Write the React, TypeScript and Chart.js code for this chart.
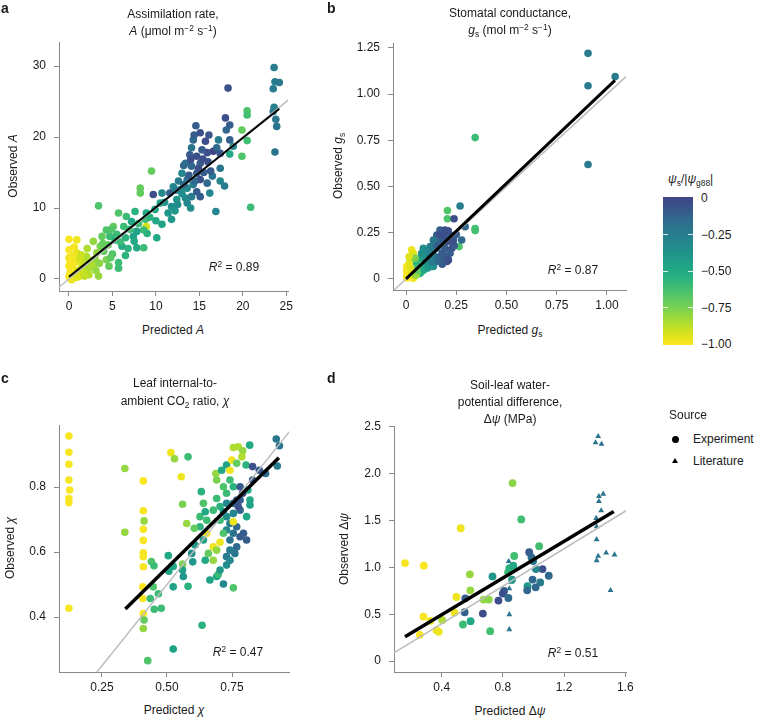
import React, { useEffect, useRef } from 'react';
import { Chart, registerables } from 'chart.js';
Chart.register(...registerables);

const FONT = '"Liberation Sans", Arial, Helvetica, sans-serif';
const TEXT = '#1a1a1a';
const AXIS = '#8a8a8a';

// ---------- DATA ----------
// [predicted, observed, psi_s/|psi_g88|]
const panelAPoints: [number, number, number][] = [
  [23.6, 29.8, -0.25], [23.7, 27.8, -0.25], [24.2, 27.7, -0.22], [23.5, 26.8, -0.25], [18.3, 26.9, -0.05],
  [23.6, 24.2, -0.28], [23.5, 23.6, -0.25], [23.8, 22.5, -0.22], [23.9, 21.5, -0.2], [23.7, 17.9, -0.2],
  [20.5, 23.7, -0.65], [20.5, 23.1, -0.62], [20.5, 19.5, -0.62], [19.9, 21.0, -0.7], [19.9, 17.3, -0.65], [20.9, 10.1, -0.6],
  [14.6, 21.6, -0.1], [15.1, 20.6, -0.05], [16.1, 20.3, -0.08], [18.0, 22.7, -0.05], [18.5, 21.7, -0.1], [18.1, 21.0, -0.15],
  [17.2, 19.6, -0.25], [18.5, 19.6, -0.12], [18.9, 18.7, -0.3], [17.4, 17.7, -0.08], [16.6, 18.0, 0], [15.9, 17.8, -0.05],
  [18.5, 17.6, -0.5], [17.4, 15.6, -0.2], [17.4, 13.8, -0.3], [17.9, 13.1, -0.25], [16.9, 9.5, -0.3],
  [14.3, 19.6, -0.15], [14.1, 18.5, -0.2], [13.9, 17.5, -0.1], [14.7, 17.3, -0.05], [15.1, 16.3, -0.1], [13.4, 16.3, -0.2],
  [14.1, 15.9, -0.15], [14.7, 14.9, -0.1], [13.0, 14.9, -0.3], [13.6, 14.0, -0.2], [15.1, 14.0, -0.05], [15.9, 13.5, -0.15],
  [14.3, 13.3, -0.25], [13.6, 12.8, -0.3], [14.7, 12.3, -0.1], [14.1, 11.6, -0.25], [13.4, 11.4, -0.3], [15.1, 11.6, -0.1],
  [13.6, 10.7, -0.3], [14.0, 10.0, -0.35], [16.2, 12.1, -0.3],
  [12.8, 12.6, -0.35], [11.6, 12.1, -0.1], [12.4, 11.2, -0.4], [11.8, 10.2, -0.35], [11.4, 9.3, -0.4], [11.8, 8.4, -0.4],
  [10.7, 12.1, -0.3], [10.5, 10.7, -0.45], [9.9, 9.8, -0.5], [10.7, 7.7, -0.45], [10.1, 5.8, -0.5],
  [9.7, 11.9, -0.05], [9.5, 15.2, -0.7], [8.2, 12.8, -0.7], [8.2, 12.1, -0.7], [8.9, 9.3, -0.5], [8.8, 8.4, -0.6],
  [8.9, 7.4, -0.92], [8.6, 6.9, -0.6], [7.8, 6.7, -0.45], [7.6, 9.5, -0.55], [6.6, 8.8, -0.6], [7.2, 8.1, -0.5],
  [6.3, 7.4, -0.6], [7.4, 6.0, -0.45], [7.8, 4.4, -0.5], [8.6, 4.4, -0.6],
  [5.7, 9.3, -0.65], [5.1, 7.4, -0.7], [4.3, 6.9, -0.65], [4.7, 6.0, -0.6], [5.3, 5.5, -0.55], [6.1, 4.6, -0.5],
  [5.7, 2.3, -0.6], [5.7, 1.5, -0.6],
  [3.4, 10.3, -0.65], [3.8, 6.0, -0.7], [3.6, 4.6, -0.75], [3.2, 3.7, -0.8], [4.0, 3.9, -0.7], [4.3, 2.7, -0.75],
  [2.8, 5.3, -0.8], [2.8, 1.8, -0.85], [3.4, 0.4, -0.8],
  [2.0, 3.2, -0.85], [1.7, 2.3, -0.88], [2.2, 1.3, -0.85], [1.3, 0.8, -0.9], [0.9, 5.5, -0.97], [0, 5.6, -0.99],
  [0, 4.1, -0.99], [0, 3.0, -0.98], [0, 1.8, -0.99], [0.1, 0.8, -0.98], [0.5, 0.4, -0.97], [0.7, 2.3, -0.97],
  [0.9, 3.7, -0.95], [1.5, 1.8, -0.9], [0.3, -0.1, -0.97],
  [12.0, 13.0, -0.3], [12.6, 13.8, -0.25], [13.2, 13.3, -0.15], [14.9, 15.6, -0.05], [15.5, 15.0, -0.1], [16.0, 16.5, -0.05],
  [15.3, 18.2, -0.1], [14.0, 16.8, -0.05], [13.0, 12.0, -0.35], [12.2, 9.6, -0.4], [11.0, 10.8, -0.4], [10.0, 8.2, -0.5],
  [9.3, 8.7, -0.55], [9.0, 6.4, -0.55], [8.0, 7.8, -0.6], [7.0, 7.0, -0.6], [6.5, 5.8, -0.55], [5.5, 6.3, -0.6],
  [4.5, 4.8, -0.7], [5.0, 3.5, -0.65], [6.5, 3.3, -0.55], [3.0, 2.8, -0.8], [2.4, 2.6, -0.85], [1.9, 1.5, -0.85],
  [1.2, 2.8, -0.92], [0.4, 2.0, -0.99], [0.6, 1.2, -0.97], [1.0, 1.2, -0.93], [0.2, 0.4, -0.99], [0.8, 0.2, -0.95],
  [3.9, 5.0, -0.7], [4.9, 7.0, -0.65], [7.5, 5.3, -0.5], [12.5, 10.5, -0.35], [16.5, 14.5, -0.2], [15.7, 19.4, -0.05],
  [14.4, 20.3, -0.1], [17.0, 18.5, -0.15],
  [0.2, 1.2, -0.99], [0.5, 3.3, -0.98], [0.3, 2.6, -0.99], [1.1, 0.3, -0.94], [1.6, 0.9, -0.9], [2.3, 0.6, -0.86],
  [2.6, 2.0, -0.84], [1.4, 3.4, -0.9], [0.6, 4.5, -0.98], [2.1, 4.3, -0.85], [3.1, 1.2, -0.8], [4.6, 1.8, -0.7],
  [4.8, 3.0, -0.68], [3.5, 2.2, -0.78], [1.8, 0.4, -0.88], [0.1, 2.2, -0.99], [0.0, 0.3, -0.99], [5.9, 5.2, -0.6],
  [6.8, 4.3, -0.55], [13.8, 14.6, -0.1], [15.4, 16.9, -0.05], [16.3, 15.2, -0.1], [14.5, 13.8, -0.15],
  [12.3, 12.5, -0.25], [13.2, 16.0, -0.15],
];

const panelBPoints: [number, number, number][] = [
  [0.906, 1.221, -0.25], [0.906, 1.046, -0.25], [0.906, 0.619, -0.25], [1.041, 1.095, -0.25],
  [0.344, 0.765, -0.6], [0.344, 0.272, -0.62], [0.344, 0.262, -0.62], [0.269, 0.395, -0.25], [0.206, 0.37, -0.65],
  [0.206, 0.326, -0.65], [0.239, 0.326, -0.05], [0.264, 0.175, -0.65],
  [0.169, 0.265, -0.1], [0.194, 0.265, -0.05], [0.153, 0.238, -0.1], [0.186, 0.229, -0.05], [0.219, 0.238, -0.1],
  [0.136, 0.211, -0.2], [0.169, 0.202, -0.1], [0.203, 0.202, -0.05], [0.236, 0.211, -0.1], [0.277, 0.211, -0.15],
  [0.294, 0.283, -0.15], [0.12, 0.175, -0.25], [0.153, 0.166, -0.15], [0.194, 0.166, -0.1], [0.228, 0.166, -0.05],
  [0.086, 0.166, -0.35], [0.103, 0.139, -0.3], [0.136, 0.13, -0.2], [0.169, 0.121, -0.15], [0.203, 0.121, -0.1],
  [0.153, 0.094, -0.15], [0.203, 0.094, 0], [0.111, 0.103, -0.3], [0.07, 0.112, -0.45], [0.053, 0.085, -0.55],
  [0.086, 0.067, -0.5], [0.12, 0.076, -0.4],
  [0.028, 0.157, -0.97], [0.036, 0.139, -0.94], [0.02, 0.103, -0.85], [0.003, 0.067, -0.99], [0.003, 0.04, -0.97],
  [0.003, 0.013, -0.99], [0.02, 0.022, -0.97], [0.045, 0.04, -0.75], [0.061, 0.031, -0.7], [0.078, 0.04, -0.6],
  [0.036, 0.004, -0.97], [0.02, 0.058, -0.92], [0.053, 0.058, -0.7], [0.095, 0.088, -0.45], [0.136, 0.067, -0.35],
  [0.045, 0.112, -0.75], [0.078, 0.139, -0.35], [0.111, 0.148, -0.3], [0.145, 0.193, -0.2], [0.186, 0.103, -0.1],
  [0.211, 0.103, -0.05], [0.219, 0.139, -0.1],
  [0.01, 0.03, -0.99], [0.015, 0.08, -0.95], [0.03, 0.05, -0.92], [0.06, 0.06, -0.6], [0.1, 0.1, -0.35],
  [0.13, 0.15, -0.25], [0.16, 0.18, -0.1], [0.18, 0.14, -0.1], [0.24, 0.18, -0.1], [0.07, 0.03, -0.55],
  [0.04, 0.02, -0.85], [0.005, 0.005, -0.99],
  [0.01, 0.01, -0.99], [0.025, 0.035, -0.95], [0.05, 0.02, -0.8], [0.06, 0.045, -0.7], [0.09, 0.05, -0.5],
  [0.11, 0.06, -0.4], [0.13, 0.09, -0.25], [0.16, 0.1, -0.15], [0.18, 0.08, -0.1], [0.23, 0.2, -0.05],
  [0.25, 0.24, -0.1], [0.1, 0.12, -0.35], [0.12, 0.12, -0.25], [0.17, 0.24, -0.05], [0.21, 0.26, -0.05],
  [0.015, 0.12, -0.94],
];

const panelCPoints: [number, number, number][] = [
  [0.123, 0.957, -0.99], [0.123, 0.907, -0.99], [0.123, 0.87, -0.99], [0.123, 0.822, -0.99], [0.126, 0.791, -0.99],
  [0.123, 0.765, -0.99], [0.123, 0.752, -0.99], [0.123, 0.427, -0.99],
  [0.409, 0.819, -0.99], [0.409, 0.727, -0.99], [0.412, 0.696, -0.8], [0.409, 0.67, -0.99], [0.409, 0.636, -0.99],
  [0.409, 0.598, -0.99], [0.409, 0.586, -0.99], [0.409, 0.555, -0.99], [0.407, 0.493, -0.99], [0.407, 0.457, -0.99],
  [0.409, 0.411, -0.99], [0.412, 0.391, -0.7], [0.409, 0.365, -0.8], [0.426, 0.266, -0.65],
  [0.338, 0.857, -0.8], [0.338, 0.661, -0.8], [0.515, 0.906, -0.97], [0.529, 0.887, -0.8], [0.581, 0.893, -0.6],
  [0.555, 0.832, -0.97], [0.56, 0.747, -0.75], [0.576, 0.688, -0.8], [0.56, 0.563, -0.75], [0.524, 0.302, -0.45],
  [0.635, 0.375, -0.55],
  [0.44, 0.571, -0.65], [0.45, 0.558, -0.6], [0.436, 0.457, -0.6], [0.447, 0.493, -0.65], [0.467, 0.472, -0.6],
  [0.451, 0.424, -0.6], [0.478, 0.427, -0.6],
  [0.505, 0.589, -0.5], [0.507, 0.541, -0.45], [0.524, 0.556, -0.5], [0.524, 0.493, -0.45], [0.56, 0.545, -0.45],
  [0.563, 0.525, -0.4], [0.581, 0.495, -0.55], [0.599, 0.57, -0.4], [0.595, 0.596, -0.35], [0.608, 0.622, -0.4],
  [0.627, 0.709, -0.6], [0.627, 0.678, -0.55], [0.605, 0.673, -0.7], [0.632, 0.786, -0.55], [0.64, 0.75, -0.65],
  [0.647, 0.724, -0.5], [0.653, 0.698, -0.6], [0.64, 0.637, -0.45], [0.653, 0.658, -0.97], [0.678, 0.616, -0.97],
  [0.659, 0.596, -0.7], [0.678, 0.575, -0.8], [0.647, 0.575, -0.5], [0.665, 0.514, -0.45], [0.691, 0.525, -0.45],
  [0.717, 0.502, -0.3], [0.697, 0.531, -0.6], [0.755, 0.49, -0.65],
  [0.688, 0.842, -0.8], [0.691, 0.822, -0.75], [0.71, 0.852, -0.5], [0.729, 0.868, -0.45], [0.755, 0.922, -0.85],
  [0.774, 0.924, -0.85], [0.791, 0.912, -0.8], [0.788, 0.893, -0.85], [0.749, 0.883, -0.97], [0.818, 0.929, -0.5],
  [0.742, 0.852, -0.97], [0.768, 0.873, -0.7], [0.804, 0.868, -0.55], [0.829, 0.863, -0.05], [0.855, 0.852, -0.1],
  [0.879, 0.842, -0.15], [0.92, 0.948, -0.2], [0.932, 0.927, -0.2], [0.924, 0.865, -0.25], [0.819, 0.76, -0.5],
  [0.819, 0.745, -0.45],
  [0.742, 0.822, -0.6], [0.717, 0.801, -0.65], [0.729, 0.781, -0.6], [0.755, 0.801, -0.55], [0.781, 0.801, -0.1],
  [0.791, 0.781, -0.05], [0.781, 0.76, -0.1], [0.755, 0.75, -0.2], [0.729, 0.75, -0.3], [0.704, 0.74, -0.55],
  [0.755, 0.719, -0.3], [0.781, 0.729, -0.15], [0.806, 0.709, -0.5], [0.729, 0.709, -0.35], [0.704, 0.698, -0.6],
  [0.742, 0.688, -0.25], [0.768, 0.678, -0.15], [0.729, 0.668, -0.3], [0.755, 0.658, -0.2], [0.781, 0.647, -0.1],
  [0.742, 0.637, -0.2], [0.768, 0.616, -0.15], [0.742, 0.606, -0.25], [0.761, 0.596, -0.2], [0.729, 0.586, -0.25],
  [0.742, 0.575, -0.3], [0.729, 0.56, -0.35], [0.704, 0.545, -0.4], [0.691, 0.606, -0.8], [0.717, 0.658, -0.65],
  [0.704, 0.63, -0.97], [0.678, 0.729, -0.6], [0.691, 0.765, -0.6], [0.717, 0.724, -0.4], [0.768, 0.76, -0.1],
  [0.811, 0.791, -0.5], [0.829, 0.822, -0.1], [0.755, 0.693, -0.97], [0.774, 0.74, -0.05], [0.794, 0.658, -0.1],
  [0.806, 0.637, -0.1],
];

const panelDExperiment: [number, number, number][] = [
  [0.16, 1.046, -0.99], [0.283, 1.018, -0.99], [0.524, 1.418, -0.97], [0.863, 1.901, -0.78], [0.92, 1.512, -0.62],
  [1.037, 1.227, -0.62], [0.874, 1.122, -0.62],
  [0.972, 1.162, -0.1], [0.987, 1.108, -0.15], [0.998, 1.068, -0.2], [1.059, 0.982, -0.05], [1.016, 0.982, -0.3],
  [1.1, 0.911, -0.15], [0.994, 0.87, -0.15], [1.044, 0.84, -0.25], [1.014, 0.787, -0.15], [0.961, 0.8, -0.4],
  [0.959, 0.755, -0.15],
  [0.732, 0.904, -0.4], [0.834, 0.947, -0.6], [0.842, 0.993, -0.55], [0.868, 1.018, -0.5], [0.86, 0.87, -0.4],
  [0.808, 0.748, -0.1], [0.799, 0.72, -0.05], [0.836, 0.673, -0.15], [0.771, 0.646, -0.05],
  [0.584, 0.926, -0.8], [0.587, 0.755, -0.8], [0.496, 0.684, -0.97], [0.554, 0.67, -0.1], [0.673, 0.656, -0.8],
  [0.708, 0.656, -0.78],
  [0.55, 0.521, -0.12], [0.669, 0.507, -0.05], [0.483, 0.518, -0.97], [0.281, 0.475, -0.99], [0.326, 0.43, -0.97],
  [0.404, 0.436, -0.85], [0.366, 0.33, -0.97], [0.381, 0.312, -0.97], [0.257, 0.28, -0.99],
  [0.539, 0.39, -0.6], [0.589, 0.426, -0.5], [0.717, 0.319, -0.62],
];

const panelDLiterature: [number, number, number][] = [
  [1.423, 2.4, -0.2], [1.406, 2.333, -0.2], [1.445, 2.316, -0.2], [1.456, 1.784, -0.2], [1.428, 1.759, -0.2],
  [1.428, 1.706, -0.2], [1.443, 1.606, -0.2], [1.41, 1.525, -0.2], [1.413, 1.436, -0.2], [1.413, 1.298, -0.2],
  [1.423, 1.12, -0.2], [1.413, 1.074, -0.2], [1.475, 1.156, -0.2], [1.53, 1.135, -0.2], [1.504, 0.755, -0.2],
  [0.838, 1.064, -0.2], [0.842, 0.773, -0.2], [0.853, 0.844, -0.25], [0.842, 0.497, -0.2], [0.842, 0.337, -0.2],
];

// regression lines [x0, x1], [y0, y1]
const aFitX = [0, 24.2]; const aFitY = [0.3, 24.0];
const bFitX = [0, 1.04]; const bFitY = [0.0, 1.075];
const cFitX = [0.34, 0.93]; const cFitY = [0.425, 0.89];
const dFitX = [0.16, 1.525]; const dFitY = [0.259, 1.596];

// tick values and labels
const aTicksX = [0, 5, 10, 15, 20, 25]; const aLabelsX = ['0', '5', '10', '15', '20', '25'];
const aTicksY = [0, 10, 20, 30]; const aLabelsY = ['0', '10', '20', '30'];
const bTicksX = [0, 0.25, 0.5, 0.75, 1]; const bLabelsX = ['0', '0.25', '0.50', '0.75', '1.00'];
const bTicksY = [0, 0.25, 0.5, 0.75, 1, 1.25]; const bLabelsY = ['0', '0.25', '0.50', '0.75', '1.00', '1.25'];
const cTicksX = [0.25, 0.5, 0.75]; const cLabelsX = ['0.25', '0.50', '0.75'];
const cTicksY = [0.4, 0.6, 0.8]; const cLabelsY = ['0.4', '0.6', '0.8'];
const dTicksX = [0.4, 0.8, 1.2, 1.6]; const dLabelsX = ['0.4', '0.8', '1.2', '1.6'];
const dTicksY = [0, 0.5, 1, 1.5, 2, 2.5]; const dLabelsY = ['0', '0.5', '1.0', '1.5', '2.0', '2.5'];

const r2Values = ['0.89', '0.87', '0.47', '0.51'];
const colorbarTicks = [0, -0.25, -0.5, -0.75, -1];
const colorbarLabels = ['0', '\u22120.25', '\u22120.50', '\u22120.75', '\u22121.00'];

// ---------- COLOUR ----------
const VIRIDIS: [number, string][] = [
  [0.2, '#414487'], [0.25, '#3b528b'], [0.3, '#33638d'], [0.35, '#2c728e'], [0.4, '#287c8e'], [0.45, '#238a8d'],
  [0.5, '#21918c'], [0.55, '#1fa088'], [0.6, '#22a884'], [0.65, '#2fb47c'], [0.7, '#44bf70'], [0.75, '#5ec962'],
  [0.8, '#7ad151'], [0.85, '#9bd93c'], [0.9, '#bddf26'], [0.95, '#dfe318'], [1.0, '#fde725'],
];
function hexToRgb(h: string) {
  return [parseInt(h.slice(1, 3), 16), parseInt(h.slice(3, 5), 16), parseInt(h.slice(5, 7), 16)];
}
function viridis(psi: number): string {
  const v = Math.min(1, Math.max(0.2, 1 - 0.8 * (psi + 1)));
  for (let i = 0; i < VIRIDIS.length - 1; i++) {
    const [a, ca] = VIRIDIS[i];
    const [b, cb] = VIRIDIS[i + 1];
    if (v >= a && v <= b) {
      const t = (v - a) / (b - a);
      const A = hexToRgb(ca), B = hexToRgb(cb);
      const c = A.map((x, k) => Math.round(x + (B[k] - x) * t));
      return `rgb(${c[0]},${c[1]},${c[2]})`;
    }
  }
  return VIRIDIS[VIRIDIS.length - 1][1];
}

// ---------- PANEL ----------
type PointSet = { pts: [number, number, number][]; style: string; radius: number };
type Panel = {
  box: { left: number; top: number; width: number; height: number };
  area: { left: number; top: number; right: number; bottom: number };
  xRange: [number, number]; yRange: [number, number];
  xTicks: number[]; xLabels: string[]; yTicks: number[]; yLabels: string[];
  fitX: number[]; fitY: number[]; fitWidth: number;
  sets: PointSet[];
};

function ScatterPanel({ p }: { p: Panel }) {
  const ref = useRef<HTMLCanvasElement>(null);
  useEffect(() => {
    const { box, area } = p;
    const lo = Math.min(p.xRange[0], p.yRange[0]);
    const hi = Math.max(p.xRange[1], p.yRange[1]);
    const tickFont = { family: FONT, size: 12 };
    const datasets: any[] = [
      {
        data: p.fitX.map((x, i) => ({ x, y: p.fitY[i] })),
        showLine: true, borderColor: '#000', borderWidth: p.fitWidth, pointRadius: 0, borderCapStyle: 'butt',
      },
      {
        data: [{ x: lo, y: lo }, { x: hi, y: hi }],
        showLine: true, borderColor: '#bdbdbd', borderWidth: 1.5, pointRadius: 0,
      },
      ...p.sets.map((s) => ({
        data: s.pts.map((q) => ({ x: q[0], y: q[1] })),
        pointBackgroundColor: s.pts.map((q) => viridis(q[2])),
        pointBorderWidth: 0,
        pointRadius: s.radius,
        pointStyle: s.style,
        showLine: false,
        clip: false,
      })),
    ];
    const chart = new Chart(ref.current!, {
      type: 'scatter',
      data: { datasets },
      options: {
        responsive: false,
        animation: false,
        devicePixelRatio: 1,
        events: [],
        layout: {
          padding: { left: 0, top: area.top - box.top, right: box.left + box.width - area.right, bottom: 0 },
        },
        plugins: { legend: { display: false }, tooltip: { enabled: false }, title: { display: false } },
        scales: {
          x: {
            type: 'linear', min: p.xRange[0], max: p.xRange[1],
            afterBuildTicks: (s: any) => { s.ticks = p.xTicks.map((v) => ({ value: v })); },
            afterFit: (s: any) => { s.height = box.top + box.height - area.bottom; },
            ticks: {
              callback: (_v: any, i: number) => p.xLabels[i], font: tickFont, color: TEXT,
              padding: 3, maxRotation: 0, autoSkip: false,
            },
            grid: { display: true, drawOnChartArea: false, drawTicks: true, tickLength: 5, tickColor: AXIS, tickWidth: 1 },
            border: { display: true, color: AXIS, width: 1 },
          },
          y: {
            type: 'linear', min: p.yRange[0], max: p.yRange[1],
            afterBuildTicks: (s: any) => { s.ticks = p.yTicks.map((v) => ({ value: v })); },
            afterFit: (s: any) => { s.width = area.left - box.left; },
            ticks: {
              callback: (_v: any, i: number) => p.yLabels[i], font: tickFont, color: TEXT,
              padding: 8, autoSkip: false,
            },
            grid: { display: true, drawOnChartArea: false, drawTicks: true, tickLength: 5, tickColor: AXIS, tickWidth: 1 },
            border: { display: true, color: AXIS, width: 1 },
          },
        },
      } as any,
    });
    return () => chart.destroy();
  }, [p]);
  const { box } = p;
  return (
    <canvas
      ref={ref}
      width={box.width}
      height={box.height}
      style={{ position: 'absolute', left: box.left, top: box.top, width: box.width, height: box.height }}
    />
  );
}

const PANELS: Panel[] = [
  {
    box: { left: 0, top: 0, width: 310, height: 320 },
    area: { left: 59, top: 42, right: 288, bottom: 291 },
    xRange: [-1.15, 25.2], yRange: [-1.7, 33.4],
    xTicks: aTicksX, xLabels: aLabelsX, yTicks: aTicksY, yLabels: aLabelsY,
    fitX: aFitX, fitY: aFitY, fitWidth: 2,
    sets: [{ pts: panelAPoints, style: 'circle', radius: 3.8 }],
  },
  {
    box: { left: 330, top: 0, width: 310, height: 320 },
    area: { left: 393, top: 43, right: 626, bottom: 290 },
    xRange: [-0.065, 1.095], yRange: [-0.06, 1.277],
    xTicks: bTicksX, xLabels: bLabelsX, yTicks: bTicksY, yLabels: bLabelsY,
    fitX: bFitX, fitY: bFitY, fitWidth: 3,
    sets: [{ pts: panelBPoints, style: 'circle', radius: 3.8 }],
  },
  {
    box: { left: 0, top: 360, width: 310, height: 340 },
    area: { left: 59, top: 425, right: 289, bottom: 672 },
    xRange: [0.085, 0.969], yRange: [0.231, 0.991],
    xTicks: cTicksX, xLabels: cLabelsX, yTicks: cTicksY, yLabels: cLabelsY,
    fitX: cFitX, fitY: cFitY, fitWidth: 3.5,
    sets: [{ pts: panelCPoints, style: 'circle', radius: 3.8 }],
  },
  {
    box: { left: 330, top: 360, width: 310, height: 340 },
    area: { left: 394, top: 426, right: 626, bottom: 672 },
    xRange: [0.088, 1.605], yRange: [-0.117, 2.51],
    xTicks: dTicksX, xLabels: dLabelsX, yTicks: dTicksY, yLabels: dLabelsY,
    fitX: dFitX, fitY: dFitY, fitWidth: 3.5,
    sets: [
      { pts: panelDExperiment, style: 'circle', radius: 3.9 },
      { pts: panelDLiterature, style: 'triangle', radius: 3.4 },
    ],
  },
];

// ---------- TEXT HELPERS ----------
const Sup = ({ children }: { children: React.ReactNode }) => (
  <span style={{ fontSize: '0.7em', position: 'relative', top: '-0.5em' }}>{children}</span>
);
const Sub = ({ children }: { children: React.ReactNode }) => (
  <span style={{ fontSize: '0.7em', position: 'relative', top: '0.3em' }}>{children}</span>
);
const I = ({ children }: { children: React.ReactNode }) => <span style={{ fontStyle: 'italic' }}>{children}</span>;

function T({ x, y, children, rot, left, size = 12, bold }: {
  x: number; y: number; children: React.ReactNode; rot?: boolean; left?: boolean; size?: number; bold?: boolean;
}) {
  return (
    <div
      style={{
        position: 'absolute', left: x, top: y, whiteSpace: 'nowrap', fontSize: size, lineHeight: '1',
        fontWeight: bold ? 'bold' : 'normal', color: TEXT,
        transform: `translate(${left ? '0' : '-50%'}, -50%)${rot ? ' rotate(-90deg)' : ''}`,
      }}
    >
      {children}
    </div>
  );
}

function cbY(v: number) { return 198 + (0 - v) * 146; }

export default function App() {
  const gradStops = [];
  for (let i = 0; i <= 20; i++) {
    const v = -i / 20;
    gradStops.push(`${viridis(v)} ${(i / 20) * 100}%`);
  }
  return (
    <div style={{ position: 'absolute', left: 0, top: 0, width: 761, height: 722, background: '#fff', fontFamily: FONT, overflow: 'hidden' }}>
      {PANELS.map((p, i) => <ScatterPanel key={i} p={p} />)}

      {/* panel letters */}
      <T x={1} y={8} left bold size={14}>a</T>
      <T x={327} y={8} left bold size={14}>b</T>
      <T x={1} y={378} left bold size={14}>c</T>
      <T x={327} y={378} left bold size={14}>d</T>

      {/* titles */}
      <T x={173} y={14}>Assimilation rate,</T>
      <T x={173} y={31}><I>A</I> (μmol m<Sup>−2</Sup> s<Sup>−1</Sup>)</T>
      <T x={510} y={13}>Stomatal conductance,</T>
      <T x={510} y={30}><I>g</I><Sub>s</Sub> (mol m<Sup>−2</Sup> s<Sup>−1</Sup>)</T>
      <T x={175} y={383}>Leaf internal-to-</T>
      <T x={175} y={401}>ambient CO<Sub>2</Sub> ratio, <I>χ</I></T>
      <T x={510} y={385}>Soil-leaf water-</T>
      <T x={510} y={402}>potential difference,</T>
      <T x={510} y={419}>Δ<I>ψ</I> (MPa)</T>

      {/* axis titles */}
      <T x={173} y={330}>Predicted <I>A</I></T>
      <T x={510} y={330}>Predicted <I>g</I><Sub>s</Sub></T>
      <T x={174} y={710}>Predicted <I>χ</I></T>
      <T x={510} y={711}>Predicted Δ<I>ψ</I></T>
      <T x={13} y={166} rot>Observed <I>A</I></T>
      <T x={338} y={166} rot>Observed <I>g</I><Sub>s</Sub></T>
      <T x={10} y={548} rot>Observed <I>χ</I></T>
      <T x={344} y={549} rot>Observed Δ<I>ψ</I></T>

      {/* R2 */}
      <T x={234} y={267}><I>R</I><Sup>2</Sup> = {r2Values[0]}</T>
      <T x={573} y={270}><I>R</I><Sup>2</Sup> = {r2Values[1]}</T>
      <T x={238} y={652}><I>R</I><Sup>2</Sup> = {r2Values[2]}</T>
      <T x={573} y={653}><I>R</I><Sup>2</Sup> = {r2Values[3]}</T>

      {/* colour bar */}
      <T x={668} y={179} left><I>ψ</I><Sub>s</Sub>/|<I>ψ</I><Sub>g88</Sub>|</T>
      <div style={{ position: 'absolute', left: 663, top: 197, width: 30, height: 148, background: `linear-gradient(to bottom, ${gradStops.join(', ')})` }} />
      {colorbarTicks.slice(1, -1).map((v, i) => (
        <React.Fragment key={i}>
          <div style={{ position: 'absolute', left: 663, top: cbY(v) - 0.5, width: 5, height: 1, background: 'rgba(255,255,255,0.85)' }} />
          <div style={{ position: 'absolute', left: 688, top: cbY(v) - 0.5, width: 5, height: 1, background: 'rgba(255,255,255,0.85)' }} />
        </React.Fragment>
      ))}
      {colorbarTicks.map((v, i) => (
        <T key={i} x={701} y={cbY(v)} left>{colorbarLabels[i]}</T>
      ))}

      {/* source legend */}
      <T x={669} y={415} left>Source</T>
      <div style={{ position: 'absolute', left: 671.5, top: 435.5, width: 7, height: 7, borderRadius: '50%', background: '#000' }} />
      <T x={693} y={439} left>Experiment</T>
      <div style={{ position: 'absolute', left: 672, top: 458, width: 0, height: 0, borderLeft: '3px solid transparent', borderRight: '3px solid transparent', borderBottom: '5.5px solid #000' }} />
      <T x={693} y={461} left>Literature</T>
    </div>
  );
}
